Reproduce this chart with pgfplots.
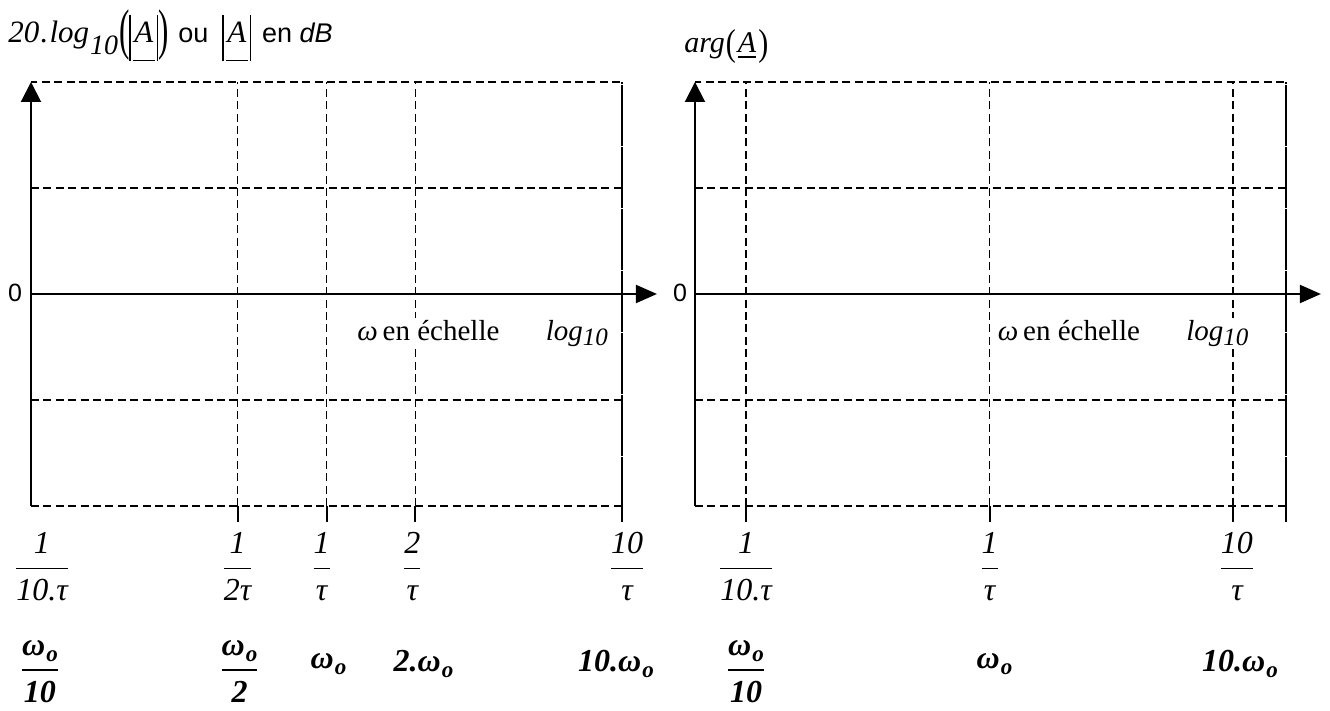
\documentclass[border=0pt]{standalone}
\usepackage{pgfplots}
\pgfplotsset{compat=1.18}
\usepackage{amsmath}
\usepackage{fontspec}
\setmainfont{Liberation Serif}
\newfontfamily\arial{Liberation Sans}
\usetikzlibrary{arrows.meta}

% fraction written with text glyphs
\newcommand{\fr}[2]{\ensuremath{\dfrac{\text{#1}}{\text{#2}}}}
% bold italic omega with index o
\newcommand{\wo}{ω\kern0.5pt\raisebox{-0.45ex}{\fontsize{11.5}{12}\selectfont o}}
\newcommand{\lbl}{\fontsize{16}{19}\selectfont\itshape}
\newcommand{\lblb}{\fontsize{16}{19}\selectfont\bfseries\itshape}
% modulus of the underlined complex A, with tall bars
\newsavebox\Abox
\newcommand{\absA}{\sbox\Abox{\kern1.8pt\textit{A}\kern1.8pt}%
  \rule[-9pt]{0.6pt}{23pt}\rlap{\kern1pt\rule[-9pt]{\dimexpr\wd\Abox-2pt\relax}{0.6pt}}\usebox\Abox\rule[-9pt]{0.6pt}{23pt}}
\newcommand{\bigparen}[1]{\raisebox{-3pt}{\scalebox{1}[1.8]{#1}}}
% axis caption under the zero line
\newcommand{\echelle}{\textit{ω}\,en échelle\hspace{1.6em}\textit{log}\raisebox{-0.4ex}{\fontsize{12.5}{14}\selectfont\itshape 10}}

\tikzset{
  boxframe/.style={black, line width=0.9pt, dash pattern=on 4pt off 2.2pt},
  axarrow/.style={black, line width=1pt},
}

\begin{document}
\begin{tikzpicture}
\useasboundingbox (0,0) rectangle (665pt,355.5pt);

% ---------- gain ----------
\begin{axis}[
    scale only axis, width=295.5pt, height=212pt,
    xmode=log, ymin=-2, ymax=2,
    axis line style={draw=none},
    xmajorgrids, ymajorgrids,
    grid style={black, line width=0.9pt, dash pattern=on 4pt off 2.2pt},
    ytick={-1,1}, yticklabels={}, ytick style={draw=none},
    xticklabels={}, minor xtick={},
    xtick pos=bottom, tick align=outside, major tick length=8pt,
    xtick style={black, solid, line width=1pt},
    clip=false,
    at={(15.5pt,102.5pt)}, anchor=south west,
    xmin=0.1, xmax=10, xtick={0.5,1,2,10}]
  \draw[boxframe] (rel axis cs:0,0) -- (rel axis cs:1,0) -- (rel axis cs:1,1) -- (rel axis cs:0,1);
  \draw[axarrow, -{Triangle[length=10pt,width=10pt]}] (rel axis cs:0,0) -- (rel axis cs:0,1);
  \draw[axarrow, -{Triangle[length=10.5pt,width=9pt]}] (axis cs:0.1,0) -- (axis cs:13.13,0);
  \node[anchor=west, fill=white, inner sep=1pt, font=\fontsize{14.5}{17}\selectfont]
    at (axis cs:1.249,-0.37) {\echelle};
  % 1/tau labels
  \node[font=\lbl] at (axis cs:0.1,-2.575) [xshift=5.5pt] {\fr{1}{10.τ}};
  \node[font=\lbl] at (axis cs:0.5,-2.575) {\fr{1}{2τ}};
  \node[font=\lbl] at (axis cs:1,-2.575) [xshift=-2.5pt] {\fr{1}{τ}};
  \node[font=\lbl] at (axis cs:2,-2.575) [xshift=-1.5pt] {\fr{2}{τ}};
  \node[font=\lbl] at (axis cs:10,-2.575) [xshift=2.5pt] {\fr{10}{τ}};
  % omega_o labels
  \node[font=\lblb, inner sep=0pt] at (axis cs:0.1,-3.56) [xshift=4.5pt] {\fr{\wo}{10}};
  \node[font=\lblb, inner sep=0pt] at (axis cs:0.5,-3.56) [xshift=1pt] {\fr{\wo}{2}};
  \node[font=\lblb] at (axis cs:1,-3.49) [xshift=1pt] {\wo};
  \node[font=\lblb] at (axis cs:2,-3.49) [xshift=4pt] {2.\wo};
  \node[font=\lblb] at (axis cs:10,-3.49) [xshift=-3pt] {10.\wo};
\end{axis}

% ---------- phase ----------
\begin{axis}[
    scale only axis, width=295.5pt, height=212pt,
    xmode=log, ymin=-2, ymax=2,
    axis line style={draw=none},
    xmajorgrids, ymajorgrids,
    grid style={black, line width=0.9pt, dash pattern=on 4pt off 2.2pt},
    ytick={-1,1}, yticklabels={}, ytick style={draw=none},
    xticklabels={}, minor xtick={},
    xtick pos=bottom, tick align=outside, major tick length=8pt,
    xtick style={black, solid, line width=1pt},
    clip=false,
    at={(347.5pt,102.5pt)}, anchor=south west,
    xmin=0.0617, xmax=16.51, xtick={0.1,1,10,16.51}]
  \draw[boxframe] (rel axis cs:0,0) -- (rel axis cs:1,0) -- (rel axis cs:1,1) -- (rel axis cs:0,1);
  \draw[axarrow, -{Triangle[length=10pt,width=10pt]}] (rel axis cs:0,0) -- (rel axis cs:0,1);
  \draw[axarrow, -{Triangle[length=10.5pt,width=9pt]}] (axis cs:0.0617,0) -- (axis cs:22.97,0);
  \node[anchor=west, fill=white, inner sep=1pt, font=\fontsize{14.5}{17}\selectfont]
    at (axis cs:1,-0.37) [xshift=3pt] {\echelle};
  \node[font=\lbl] at (axis cs:0.1,-2.575) {\fr{1}{10.τ}};
  \node[font=\lbl] at (axis cs:1,-2.575) {\fr{1}{τ}};
  \node[font=\lbl] at (axis cs:10,-2.575) [xshift=2pt] {\fr{10}{τ}};
  \node[font=\lblb, inner sep=0pt] at (axis cs:0.1,-3.56) {\fr{\wo}{10}};
  \node[font=\lblb] at (axis cs:1,-3.49) [xshift=2.5pt] {\wo};
  \node[font=\lblb] at (axis cs:10,-3.49) [xshift=3.5pt] {10.\wo};
\end{axis}

% zero marks on the vertical axes
\node[font=\arial\fontsize{12.5}{14}\selectfont] at (7.5pt,209pt) {0};
\node[font=\arial\fontsize{12.5}{14}\selectfont] at (340pt,209pt) {0};

% axis titles
\node[anchor=base west, inner sep=0pt, font=\fontsize{15.5}{18}\selectfont] at (4pt,334pt)
  {\textit{20\kern0.6pt.\kern0.6pt log}\kern0.5pt\raisebox{-6pt}{\fontsize{14}{16}\selectfont\itshape 10}\kern0.5pt\bigparen{(}\absA\bigparen{)}\hspace{5pt}{\arial\fontsize{13.5}{15}\selectfont ou}\hspace{7pt}\absA\hspace{5.5pt}{\arial\fontsize{13.5}{15}\selectfont en \textit{dB}}};
\node[anchor=base west, inner sep=0pt, font=\fontsize{15}{18}\selectfont] at (342pt,329pt)
  {\textit{arg}\kern0.5pt\raisebox{-1.5pt}{\scalebox{1}[1.25]{(}}\kern1pt\underline{\textit{A}}\kern1pt\raisebox{-1.5pt}{\scalebox{1}[1.25]{)}}};
\end{tikzpicture}
\end{document}
